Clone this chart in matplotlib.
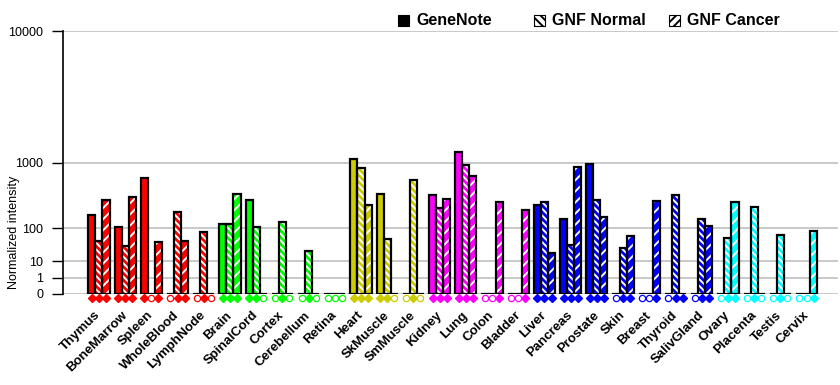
import numpy as np
import matplotlib
matplotlib.use("Agg")
import matplotlib.pyplot as plt
from matplotlib.patches import Rectangle
from matplotlib.colors import to_rgba

# ---- data ----
tissues = ["Thymus", "BoneMarrow", "Spleen", "WholeBlood", "LymphNode",
           "Brain", "SpinalCord", "Cortex", "Cerebellum", "Retina",
           "Heart", "SkMuscle", "SmMuscle",
           "Kidney", "Lung", "Colon", "Bladder",
           "Liver", "Pancreas", "Prostate", "Skin", "Breast", "Thyroid", "SalivGland",
           "Ovary", "Placenta", "Testis", "Cervix"]
genenote = [183, 106, 655, 0, 0, 122, 326, 0, 0, 0, 1085, 403, 0,
            391, 1290, 0, 0, 269, 156, 964, 0, 0, 0, 0, 0, 0, 0, 0]
gnf_normal = [50, 35, 0, 209, 83, 122, 106, 136, 25, 0, 862, 54, 624,
              245, 949, 0, 0, 300, 38, 326, 31, 0, 391, 154, 58, 252, 69, 0]
gnf_cancer = [326, 362, 47, 50, 0, 403, 0, 0, 0, 0, 275, 0, 0,
              341, 707, 300, 227, 20, 891, 170, 67, 318, 0, 111, 303, 0, 0, 88]
# presence calls shown under bars: 1 = filled, 0 = open
calls = ["111", "111", "101", "011", "010",
         "111", "110", "010", "010", "000",
         "111", "110", "010",
         "111", "111", "001", "001",
         "111", "111", "111", "011", "001", "011", "011",
         "011", "010", "010", "001"]
group_colors = (["#FF0000"] * 5 + ["#00FF00"] * 5 + ["#CCCC00"] * 3 +
                ["#FF00FF"] * 4 + ["#0000FF"] * 7 + ["#00FFFF"] * 4)
series_names = ["GeneNote", "GNF Normal", "GNF Cancer"]
hatches = [None, "\\\\\\\\\\", "///"]

plt.rcParams["font.family"] = ["Liberation Sans", "DejaVu Sans"]
plt.rcParams["hatch.linewidth"] = 1.4

P = np.log10(2)


def fwd(v):
    v = np.asarray(v, dtype=float)
    return np.sign(v) * np.abs(v) ** P


def inv(v):
    v = np.asarray(v, dtype=float)
    return np.sign(v) * np.abs(v) ** (1 / P)


def set_hatch_color(patch, color):
    # hatch colour separate from the (black) outline
    if hasattr(patch, "set_hatchcolor"):
        patch.set_hatchcolor(color)
    patch._hatch_color = to_rgba(color)


fig = plt.figure(figsize=(8.4, 3.85), dpi=100)
ax = fig.add_axes([63 / 840, 1 - 294 / 385, 775 / 840, 263 / 385])
ax.set_yscale("function", functions=(fwd, inv))

x = np.arange(len(tissues))
w = 0.27
series = [genenote, gnf_normal, gnf_cancer]
for k, vals in enumerate(series):
    xs = x + (k - 1) * w
    bars = ax.bar(xs, vals, width=w, color=group_colors, edgecolor="white",
                  linewidth=0, hatch=hatches[k], zorder=3)
    for b in bars:
        set_hatch_color(b, "white")
    ax.bar(xs, vals, width=w, fill=False, edgecolor="black",
           linewidth=1.6, zorder=4)

# presence markers under the bars
trans = ax.get_xaxis_transform()
for i, c in enumerate(calls):
    for k in range(3):
        xm = x[i] + (k - 1) * w
        if c[k] == "1":
            ax.plot(xm, -0.017, marker="D", ms=4.2, color=group_colors[i],
                    mec=group_colors[i], transform=trans, clip_on=False, zorder=5)
        else:
            ax.plot(xm, -0.017, marker="o", ms=4.5, mfc="white", mew=0.9,
                    mec=group_colors[i], transform=trans, clip_on=False, zorder=5)

ax.set_xlim(-1.37, 28.2)
ax.set_ylim(0, 10000)
ax.set_yticks([0, 1, 10, 100, 1000, 10000])
ax.set_yticklabels(["0", "1", "10", "100", "1000", "10000"], fontsize=9)
ax.yaxis.grid(True, color="#C0C0C0", linewidth=1.2, zorder=0)
ax.tick_params(axis="y", length=8, width=1, pad=6)

ax.set_xticks(x)
ax.set_xticklabels(tissues, rotation=45, ha="right", va="center",
                   rotation_mode="anchor", fontsize=9.5, fontweight="bold")
ax.tick_params(axis="x", length=0, pad=14)

for s in ["top", "right", "bottom"]:
    ax.spines[s].set_visible(False)
ax.spines["left"].set_linewidth(1.2)

ax.set_ylabel("Normalized intensity", fontsize=9)
ax.yaxis.set_label_coords(-0.056, 0.236)

# legend drawn by hand, fixed column stride like the reference
leg_x = [398, 534, 669]
leg_face = ["black", "white", "white"]
leg_hatch = [None, "\\\\\\\\", "////"]
for k, name in enumerate(series_names):
    r = Rectangle((leg_x[k] / 840, 1 - 26 / 385), 11 / 840, 11 / 385,
                  transform=fig.transFigure, facecolor=leg_face[k],
                  edgecolor="black", linewidth=0.8, hatch=leg_hatch[k])
    set_hatch_color(r, "black")
    fig.add_artist(r)
    fig.text((leg_x[k] + 18) / 840, 1 - 20.5 / 385, name, fontsize=11.5,
             fontweight="bold", va="center", ha="left")

fig.savefig("out.png", dpi=100)
